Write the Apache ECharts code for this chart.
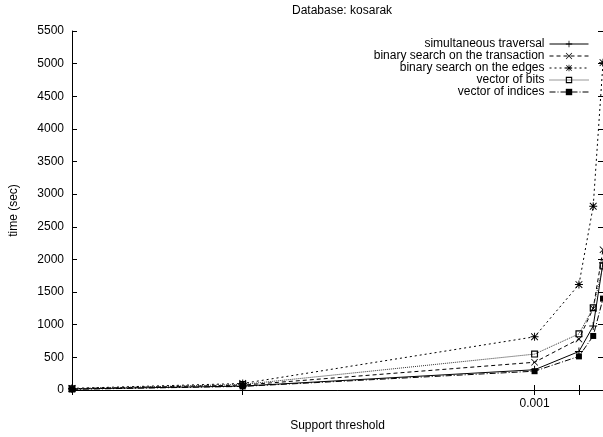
<!DOCTYPE html>
<html>
<head>
<meta charset="utf-8">
<script src="https://cdn.jsdelivr.net/npm/echarts@6/dist/echarts.min.js"></script>
<style>
  html, body { margin: 0; padding: 0; background: #fff; }
  #chart { width: 603px; height: 437px; }
</style>
</head>
<body>
<div id="chart"></div>
<script>
// support thresholds (x) and run times in seconds (y)
const supports = [0.003, 0.002, 0.001, 0.0009, 0.00087, 0.00085];
const simultaneous = [15, 60, 310, 590, 980, 1950];
const binTransaction = [20, 75, 425, 780, 1250, 2150];
const binEdges = [25, 100, 815, 1615, 2815, 5015];
const vecBits = [20, 85, 550, 860, 1260, 1900];
const vecIndices = [10, 55, 288, 515, 828, 1400];

const xTicks = [0.003, 0.002, 0.001, 0.0009];
const xLabels = [0.001];

const names = [
  'simultaneous traversal',
  'binary search on the transaction',
  'binary search on the edges',
  'vector of bits',
  'vector of indices'
];

const FONT = 'Liberation Sans, Arial, Helvetica, sans-serif';

// gnuplot-like point glyphs
const plus = 'path://M0,4.4H10V5.6H0Z M4.4,0H5.6V10H4.4Z';
const cross = 'path://M0.8,0L5,4.2L9.2,0L10,0.8L5.8,5L10,9.2L9.2,10L5,5.8L0.8,10L0,9.2L4.2,5L0,0.8Z';
const star = 'path://M0,4.4H10V5.6H0Z M4.4,0H5.6V10H4.4Z M1.2,0.4L5,4.2L8.8,0.4L9.6,1.2L5.8,5L9.6,8.8L8.8,9.6L5,5.8L1.2,9.6L0.4,8.8L4.2,5L0.4,1.2Z';
const box = 'path://M0,0H10V10H0Z M1.7,1.7V8.3H8.3V1.7Z';

function pairs(ys) {
  return supports.map((s, i) => [s, ys[i]]);
}

function line(name, ys, symbol, size, type, color) {
  return {
    name: name,
    type: 'line',
    data: pairs(ys),
    symbol: symbol,
    symbolSize: size,
    showSymbol: true,
    animation: false,
    lineStyle: { color: color || '#000', width: 1, type: type },
    itemStyle: { color: '#000', borderWidth: 0 }
  };
}

const chart = echarts.init(document.getElementById('chart'), null, { renderer: 'canvas' });

const xBase = {
  type: 'log',
  min: 0.00085,
  max: 0.003,
  inverse: true,
  splitLine: { show: false },
  minorTick: { show: false },
  axisLine: { lineStyle: { color: '#000', width: 1 } },
  axisTick: { inside: true, length: 5, lineStyle: { color: '#000' }, customValues: xTicks }
};

const yBase = {
  type: 'value',
  min: 0,
  max: 5500,
  interval: 500,
  splitLine: { show: false },
  axisLine: { show: true, lineStyle: { color: '#000', width: 1 } },
  axisTick: { show: true, inside: true, length: 5, lineStyle: { color: '#000' } }
};

chart.setOption({
  backgroundColor: '#fff',
  textStyle: { fontFamily: FONT },
  title: {
    text: 'Database: kosarak',
    left: 292,
    top: 5,
    padding: 0,
    textStyle: { fontSize: 12, fontWeight: 'normal', color: '#000', fontFamily: FONT }
  },
  legend: {
    orient: 'vertical',
    align: 'right',
    right: 14,
    top: 38,
    itemWidth: 39,
    itemHeight: 8,
    itemGap: 0,
    padding: 0,
    data: names,
    lineStyle: { width: 1 },
    textStyle: { fontSize: 12, color: '#000', lineHeight: 9.7, fontFamily: FONT }
  },
  grid: { left: 70, right: -2, top: 31, bottom: 43 },
  xAxis: [
    Object.assign({}, xBase, {
      position: 'bottom',
      name: 'Support threshold',
      nameLocation: 'middle',
      nameGap: 30,
      nameTextStyle: { fontSize: 12, color: '#000', fontFamily: FONT },
      axisLabel: {
        color: '#000', fontSize: 12, margin: 8, fontFamily: FONT,
        customValues: xLabels,
        formatter: v => String(v)
      }
    }),
    Object.assign({}, xBase, {
      position: 'top',
      axisLabel: { show: false }
    })
  ],
  yAxis: [
    Object.assign({}, yBase, {
      position: 'left',
      name: 'time (sec)',
      nameLocation: 'middle',
      nameGap: 52,
      nameTextStyle: { fontSize: 12, color: '#000', fontFamily: FONT },
      axisLabel: { color: '#000', fontSize: 12, margin: 8, fontFamily: FONT, formatter: v => String(v) }
    }),
    Object.assign({}, yBase, {
      position: 'right',
      axisLabel: { show: false }
    })
  ],
  series: [
    line(names[0], simultaneous, plus, 8, 'solid', '#000'),
    line(names[1], binTransaction, cross, 7, [4, 3], '#000'),
    line(names[2], binEdges, star, 8, [2, 3], '#000'),
    line(names[3], vecBits, box, 7, [1, 1], '#333'),
    line(names[4], vecIndices, 'rect', 6, [6, 2, 1, 2], '#000')
  ]
});
</script>
</body>
</html>
